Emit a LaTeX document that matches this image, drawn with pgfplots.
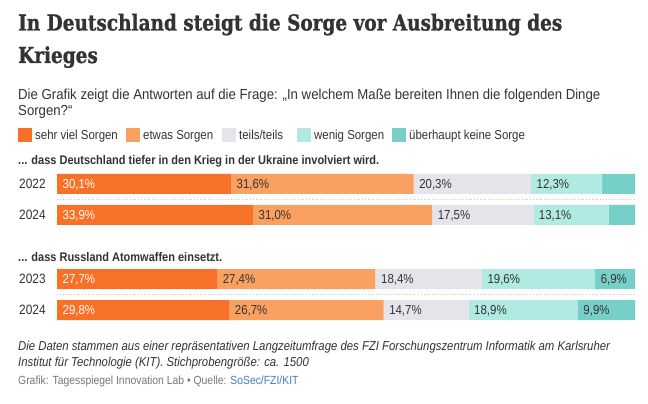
\documentclass[border=0pt]{standalone}
\usepackage{fontspec}
\usepackage{pgfplots}
\usepackage{pgfplotstable}
\pgfplotsset{compat=1.18}
\setmainfont{Liberation Sans}[FakeStretch=0.88]
\newfontfamily\subfont{Liberation Sans}[FakeStretch=0.91]
\newfontfamily\titlefont{DejaVu Serif}[FakeStretch=0.84, FakeBold=1]
\definecolor{c1}{HTML}{F77228}
\definecolor{c2}{HTML}{F9A161}
\definecolor{c3}{HTML}{E4E4EA}
\definecolor{c4}{HTML}{B0EAE3}
\definecolor{c5}{HTML}{77D0C8}
\definecolor{txt}{HTML}{333333}
\definecolor{greytxt}{HTML}{777777}
\definecolor{link}{HTML}{3F7FC4}
\definecolor{sep}{HTML}{C8C8C8}

\pgfplotstableread{
y s1 s2 s3 s4 s5
184 30.1 31.6 20.3 12.3 5.7
215 33.9 31.0 17.5 13.1 4.5
}\ukraine
\pgfplotstableread{
y s1 s2 s3 s4 s5
279 27.7 27.4 18.4 19.6 6.9
310 29.8 26.7 14.7 18.9 9.9
}\atom

\pgfplotsset{
  frame/.style={
    at={(57pt,0pt)}, anchor=south west,
    scale only axis, width=578pt, height=404pt,
    xmin=0, xmax=100, ymin=0, ymax=404, y dir=reverse,
    hide axis, clip=false,
    /pgf/number format/assume math mode=true,
  },
  grp/.style={frame, xbar stacked, bar width=20pt},
  lbl/.style={
    draw=none, mark=none,
    nodes near coords={\pgfmathprintnumber[fixed,fixed zerofill,precision=1,use comma]{\pgfplotspointmeta}\%},
    point meta=explicit,
    every node near coord/.append style={anchor=base west, inner sep=0pt, xshift=5.5pt, yshift=-4.6pt, font=\fontsize{13}{15}\selectfont, text=#1},
  },
}

\begin{document}
\begin{tikzpicture}
\path[use as bounding box, fill=white] (0,0) rectangle (648pt,404pt);

% bars
\begin{axis}[grp]
\addplot[fill=c1, draw=none] table[x=s1,y=y]{\ukraine};
\addplot[fill=c2, draw=none] table[x=s2,y=y]{\ukraine};
\addplot[fill=c3, draw=none] table[x=s3,y=y]{\ukraine};
\addplot[fill=c4, draw=none] table[x=s4,y=y]{\ukraine};
\addplot[fill=c5, draw=none] table[x=s5,y=y]{\ukraine};
\end{axis}
\begin{axis}[grp]
\addplot[fill=c1, draw=none] table[x=s1,y=y]{\atom};
\addplot[fill=c2, draw=none] table[x=s2,y=y]{\atom};
\addplot[fill=c3, draw=none] table[x=s3,y=y]{\atom};
\addplot[fill=c4, draw=none] table[x=s4,y=y]{\atom};
\addplot[fill=c5, draw=none] table[x=s5,y=y]{\atom};
\end{axis}

% value labels at the start of each segment
\begin{axis}[frame]
\addplot[lbl=white] table[x expr=0, y=y, meta=s1]{\ukraine};
\addplot[lbl=txt] table[x expr=\thisrow{s1}, y=y, meta=s2]{\ukraine};
\addplot[lbl=txt] table[x expr=\thisrow{s1}+\thisrow{s2}, y=y, meta=s3]{\ukraine};
\addplot[lbl=txt] table[x expr=\thisrow{s1}+\thisrow{s2}+\thisrow{s3}, y=y, meta=s4]{\ukraine};
\addplot[lbl=white] table[x expr=0, y=y, meta=s1]{\atom};
\addplot[lbl=txt] table[x expr=\thisrow{s1}, y=y, meta=s2]{\atom};
\addplot[lbl=txt] table[x expr=\thisrow{s1}+\thisrow{s2}, y=y, meta=s3]{\atom};
\addplot[lbl=txt] table[x expr=\thisrow{s1}+\thisrow{s2}+\thisrow{s3}, y=y, meta=s4]{\atom};
\addplot[lbl=txt] table[x expr=\thisrow{s1}+\thisrow{s2}+\thisrow{s3}+\thisrow{s4}, y=y, meta=s5]{\atom};
\end{axis}

\begin{scope}[shift={(0,404pt)}, x=1pt, y=-1pt]
% title
\node[anchor=base west, inner sep=0pt, text=txt, font=\titlefont\bfseries\fontsize{22}{24}\selectfont] at (18,30.5) {In Deutschland steigt die Sorge vor Ausbreitung des};
\node[anchor=base west, inner sep=0pt, text=txt, font=\titlefont\bfseries\fontsize{22}{24}\selectfont] at (18,63) {Krieges};
% subtitle
\node[anchor=base west, inner sep=0pt, text=txt, font=\subfont\fontsize{14.5}{17}\selectfont] at (18,100) {Die Grafik zeigt die Antworten auf die Frage: „In welchem Maße bereiten Ihnen die folgenden Dinge};
\node[anchor=base west, inner sep=0pt, text=txt, font=\subfont\fontsize{14.5}{17}\selectfont] at (18,116) {Sorgen?“};
% legend
\foreach \xx/\cc/\lt in {18/c1/{sehr viel Sorgen}, 126/c2/{etwas Sorgen}, 222/c3/{teils/teils}, 297/c4/{wenig Sorgen}, 392/c5/{überhaupt keine Sorge}}{
  \fill[\cc] (\xx,128) rectangle ++(14,14);
  \node[anchor=base west, inner sep=0pt, text=txt, font=\fontsize{13}{15}\selectfont] at (\xx+17,139.5) {\lt};
}
% group headers
\node[anchor=base west, inner sep=0pt, text=txt, font=\bfseries\fontsize{12.5}{15}\selectfont] at (18,165) {... dass Deutschland tiefer in den Krieg in der Ukraine involviert wird.};
\node[anchor=base west, inner sep=0pt, text=txt, font=\bfseries\fontsize{12.5}{15}\selectfont] at (18,262) {... dass Russland Atomwaffen einsetzt.};
% year labels
\foreach \yy/\lab in {184/2022, 215/2024, 279/2023, 310/2024}{
  \node[anchor=mid west, inner sep=0pt, text=txt, font=\fontsize{13.5}{16}\selectfont] at (19,\yy+2) {\lab};
}
% separators
\draw[sep, dotted, line width=0.8pt] (57,199.5) -- (635,199.5);
\draw[sep, dotted, line width=0.8pt] (57,294.5) -- (635,294.5);
% footnote
\node[anchor=base west, inner sep=0pt, text=txt, font=\itshape\fontsize{12.9}{15}\selectfont] at (18,351) {Die Daten stammen aus einer repräsentativen Langzeitumfrage des FZI Forschungszentrum Informatik am Karlsruher};
\node[anchor=base west, inner sep=0pt, text=txt, font=\itshape\fontsize{12.9}{15}\selectfont] at (18,366.5) {Institut für Technologie (KIT). Stichprobengröße: ca. 1500};
\node[anchor=base west, inner sep=0pt, text=greytxt, font=\fontsize{11.8}{14}\selectfont] at (18,385) {Grafik: Tagesspiegel Innovation Lab \textbullet{} Quelle: \textcolor{link}{SoSec/FZI/KIT}};
\end{scope}
\end{tikzpicture}
\end{document}
